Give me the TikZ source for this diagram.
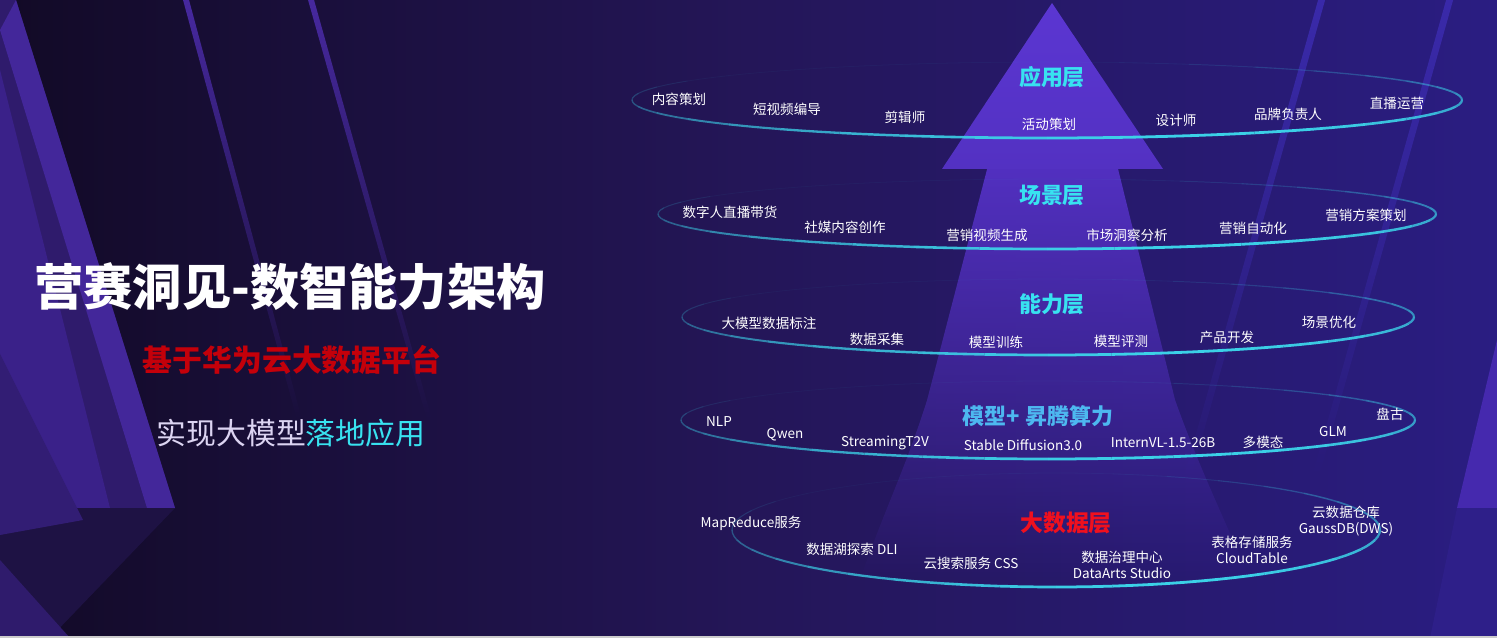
\documentclass[tikz,border=0pt]{standalone}
\usepackage{fontspec}
\setmainfont{Noto Sans CJK SC}
\usepackage{xcolor}
\definecolor{cBgL}{HTML}{120A26}
\definecolor{cBgM}{HTML}{241658}
\definecolor{cBgR}{HTML}{2A1D82}
\definecolor{cBand}{HTML}{2F1B6C}
\definecolor{cBandLt}{HTML}{43279A}
\definecolor{cBandLeft}{HTML}{3A2189}
\definecolor{cDeep}{HTML}{1E1244}
\definecolor{cStripe}{HTML}{47299F}
\definecolor{cStripeR}{HTML}{3A2AAA}
\definecolor{cEdgeR}{HTML}{4529AE}
\definecolor{cHeadT}{HTML}{5B36D2}
\definecolor{cHeadB}{HTML}{5331C2}
\definecolor{cShaft}{HTML}{5230C0}
\definecolor{cRing}{HTML}{3CD2E8}
\definecolor{cCyan}{HTML}{38E2F0}
\definecolor{cSky}{HTML}{4DB8F0}
\definecolor{cRed}{HTML}{F0101E}
\definecolor{cDarkRed}{HTML}{C4000A}
\definecolor{cLav}{HTML}{DCD4F2}
\usepackage{tikz}
\usetikzlibrary{fadings}
\tikzfading[name=fade-down,top color=transparent!0,bottom color=transparent!100]
\tikzfading[name=fade-late,top color=transparent!0,middle color=transparent!20,
  bottom color=transparent!100]
\tikzset{
  item/.style={text=white,inner sep=0pt,align=center,
    font=\fontsize{7.7}{9.4}\selectfont},
  layer-title/.style={inner sep=0pt,font=\bfseries\fontsize{12.5}{15}\selectfont},
  ring/.style={draw=cRing,line cap=butt},
  stripe/.style={fill=cStripe,path fading=fade-late},
  stripe-r/.style={fill=cStripeR,path fading=fade-late},
}

\begin{document}
\begin{tikzpicture}[x=0.02cm,y=-0.02cm]
  % background
  \shade[left color=cBgL,right color=cBgR,middle color=cBgM] (0,0) rectangle (1497,638);
  \useasboundingbox (0,0) rectangle (1497,638);

  % left bands
  \fill[cBand] (0,0) -- (16,0) -- (175,508) -- (0,508) -- cycle;
  \fill[cBandLt] (0,30) -- (16,0) -- (175,508) -- (147,508) -- cycle;
  \fill[cBandLeft] (0,70) -- (110,508) -- (0,508) -- cycle;
  \fill[cDeep] (0,508) -- (175,508) -- (50,638) -- (0,638) -- cycle;
  \fill[cBandLeft!70!cDeep] (0,354) -- (83,520) -- (0,535) -- cycle;
  \fill[cBand] (0,560) -- (70,638) -- (0,638) -- cycle;
  \fill[stripe] (183,0) -- (189,0) -- (302,420) -- (297,420) -- cycle;
  \fill[stripe] (308,0) -- (314,0) -- (432,420) -- (427,420) -- cycle;

  % right stripes
  \fill[stripe-r] (1318,0) -- (1325,0) -- (1190,480) -- (1183,480) -- cycle;
  \fill[stripe-r] (1446,0) -- (1453,0) -- (1318,480) -- (1311,480) -- cycle;
  \fill[cEdgeR] (1497,340) -- (1457,508) -- (1497,508) -- cycle;
  \fill[cBgR!85!cEdgeR] (1457,508) -- (1497,508) -- (1497,638) -- (1430,638) -- cycle;

  % arrow
  \fill[cShaft,path fading=fade-down] (987,169) -- (927,400)
    .. controls (905,470) and (880,520) .. (860,580) -- (1250,580)
    .. controls (1225,520) and (1200,470) .. (1175,400) -- (1118,169) -- cycle;
  \shade[top color=cHeadT,bottom color=cHeadB] (1052,3) -- (1163,169) -- (942,169) -- cycle;

  % rings
  \foreach \cx/\cy/\rx/\ry in {1047/100/415/38, 1047/214/389/35, 1048/317/366/38,
      1048/420/367/39, 1056/530/324/57} {
    \foreach \a in {0,10,...,350} {
      \pgfmathsetmacro\op{max(0.04,(1+sin(\a+5)+0.4*cos(\a+5))/2.08)}
      \pgfmathsetmacro\lw{0.4+1.2*\op}
      \pgfmathsetmacro\b{\a+10}
      \draw[ring,draw opacity=\op,line width=\lw pt]
        plot[domain=\a:\b,samples=4] ({\cx+\rx*cos(\x)},{\cy+\ry*sin(\x)});
    }
  }

  % left titles
  \node[inner sep=0pt,text=white,font=\bfseries\fontsize{28}{32}\selectfont]
    (titleMain) at (290,287) {营赛洞见-数智能力架构};
  \node[inner sep=0pt,text=cDarkRed,font=\bfseries\fontsize{17}{20}\selectfont]
    (subPlatform) at (292,360) {基于华为云大数据平台};
  \node[inner sep=0pt,font=\fontsize{17}{20}\selectfont]
    (subGoal) at (291,433) {\textcolor{cLav}{实现大模型}\textcolor{cCyan}{落地应用}};

  % layer titles
  \node[layer-title,text=cCyan] (layerApp) at (1052,77) {应用层};
  \node[layer-title,text=cCyan] (layerScene) at (1052,195) {场景层};
  \node[layer-title,text=cCyan] (layerAbility) at (1052,304) {能力层};
  \node[layer-title,text=cSky] (layerModel) at (1038,416) {模型+ 昇腾算力};
  \node[layer-title,text=cRed,font=\bfseries\fontsize{13}{15}\selectfont]
    (layerData) at (1066,523) {大数据层};

  % layer items
  \foreach \name/\x/\y/\txt in {app1/679/99/内容策划, app2/787/109/短视频编导,
      app3/905/117/剪辑师, app4/1049/124/活动策划, app5/1176/120/设计师,
      app6/1288/114/品牌负责人, app7/1397/103/直播运营,
      scn1/730/212/数字人直播带货, scn2/845/227/社媒内容创作, scn3/987/235/营销视频生成,
      scn4/1127/235/市场洞察分析, scn5/1253/228/营销自动化, scn6/1366/215/营销方案策划,
      abl1/769/323/大模型数据标注, abl2/877/339/数据采集, abl3/996/342/模型训练,
      abl4/1121/341/模型评测, abl5/1227/337/产品开发, abl6/1329/322/场景优化,
      mdl1/719/422/NLP, mdl2/785/435/Qwen, mdl3/885/443/StreamingT2V,
      mdl4/1023/445/Stable Diffusion3.0, mdl5/1163/443/InternVL-1.5-26B,
      mdl6/1263/442/多模态, mdl7/1333/432/GLM, mdl8/1390/414/盘古,
      dat1/751/523/MapReduce服务, dat2/852/549/数据湖探索 DLI, dat3/971/563/云搜索服务 CSS,
      dat4/1122/565/{数据治理中心\\DataArts Studio}, dat5/1252/550/{表格存储服务\\CloudTable},
      dat6/1346/521/{云数据仓库\\GaussDB(DWS)}} {
    \node[item] (\name) at (\x,\y) {\txt};
  }

  % bottom edge
  \fill[gray!40] (0,636) rectangle (1497,638);
\end{tikzpicture}
\end{document}
